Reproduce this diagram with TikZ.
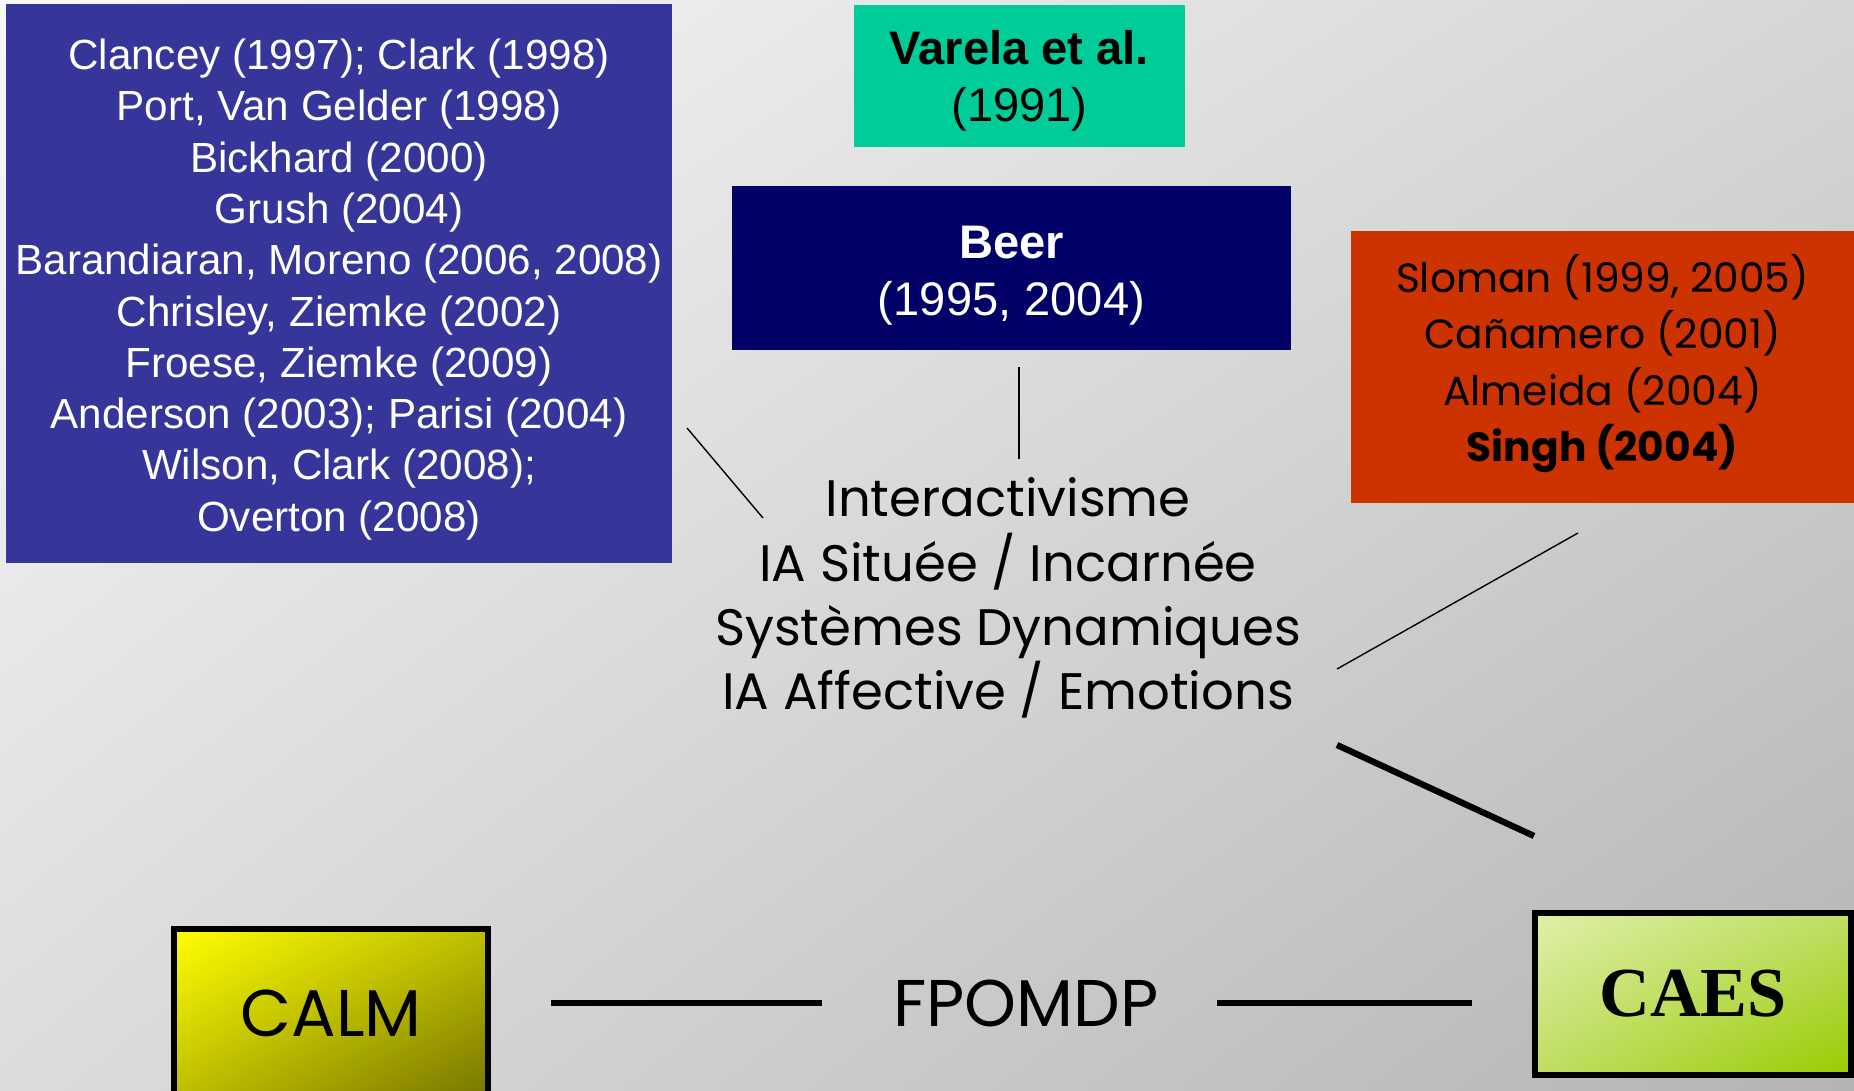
\documentclass[tikz,border=0pt]{standalone}
\usepackage{fontspec}
\usetikzlibrary{shadings}
\setmainfont{Liberation Sans}
\newfontfamily\timesbf{Liberation Serif}
\newfontfamily\gothic{Poppins}
\definecolor{bgtl}{HTML}{F8F8F8}
\definecolor{bgtr}{HTML}{D6D6D6}
\definecolor{bgbl}{HTML}{DCDCDC}
\definecolor{bgbr}{HTML}{B4B4B4}
\definecolor{refblue}{HTML}{35359A}
\definecolor{varelagreen}{HTML}{00CC99}
\definecolor{beernavy}{HTML}{000066}
\definecolor{affred}{HTML}{CC3300}
\def\thinln{\draw[line width=0.4pt]}
\def\thickln{\draw[line width=1.8pt]}
\tikzset{
  refbox/.style={rectangle, inner sep=0pt},
  reftext/.style={inner sep=0pt, align=center},
  modelbox/.style={rectangle, inner sep=0pt, draw=black, line width=1.7pt},
}

\begin{document}
\begin{tikzpicture}[x=0.1mm,y=-0.1mm]
\useasboundingbox (0,0) rectangle (1854,1091);
\clip (0,0) rectangle (1854,1091);
\shade[upper left=bgtl, upper right=bgtr, lower left=bgbl, lower right=bgbr]
  (0,0) rectangle (1854,1091);

% reference boxes
\node[refbox, fill=refblue, minimum width=66.6mm, minimum height=55.9mm] (embodied) at (339,283.5) {};
\node[reftext, text=white, font=\fontsize{12}{14.6}\selectfont] (embodiedtxt)
  at ([yshift=-1.7pt]embodied.center)
  {Clancey (1997); Clark (1998)\\ Port, Van Gelder (1998)\\ Bickhard (2000)\\
   Grush (2004)\\ Barandiaran, Moreno (2006, 2008)\\ Chrisley, Ziemke (2002)\\
   Froese, Ziemke (2009)\\ Anderson (2003); Parisi (2004)\\ Wilson, Clark (2008);\\
   Overton (2008)};
\node[refbox, fill=varelagreen, minimum width=33.1mm, minimum height=14.2mm] (varela) at (1019.5,76) {};
\node[reftext, font=\fontsize{13.4}{16.4}\selectfont] (varelatxt)
  at ([yshift=-1.4pt]varela.center) {\textbf{Varela et al.}\\ (1991)};
\node[refbox, fill=beernavy, minimum width=55.9mm, minimum height=16.4mm] (beer) at (1011.5,268) {};
\node[reftext, text=white, font=\fontsize{13.4}{16.2}\selectfont] (beertxt)
  at ([yshift=-2.2pt]beer.center) {\textbf{Beer}\\ (1995, 2004)};
\node[refbox, fill=affred, minimum width=50.3mm, minimum height=27.2mm] (affect) at (1602.5,367) {};
\node[reftext, font=\gothic\fontsize{11.6}{16.1}\selectfont] (affecttxt)
  at ([yshift=1pt]affect.center)
  {Sloman (1999, 2005)\\ Cañamero (2001)\\ Almeida (2004)\\ \textbf{Singh (2004)}};

% themes
\node[reftext, font=\gothic\fontsize{14.6}{18.3}\selectfont]
  (themes) at (1008,598)
  {Interactivisme\\ IA Située / Incarnée\\ Systèmes Dynamiques\\ IA Affective / Emotions};

% models
\node[modelbox, shade, upper left=yellow, upper right={rgb,255:red,190;green,190;blue,0},
      lower left={rgb,255:red,190;green,190;blue,0}, lower right={rgb,255:red,118;green,118;blue,0},
      minimum width=31.4mm, minimum height=16.8mm,
      font=\gothic\fontsize{18.8}{22}\selectfont] (calm) at (331,1013) {CALM};
\node[modelbox, shade, upper left={rgb,255:red,224;green,240;blue,168},
      upper right={rgb,255:red,190;green,222;blue,100}, lower left={rgb,255:red,190;green,222;blue,100},
      lower right={rgb,255:red,153;green,204;blue,0},
      minimum width=31.6mm, minimum height=16.2mm,
      font=\timesbf\bfseries\fontsize{20}{22}\selectfont] (caes) at (1693,994) {CAES};
\node[reftext, font=\gothic\fontsize{18.8}{22}\selectfont] (fpomdp) at (1026,1003) {FPOMDP};

% connectors
\coordinate (beerend) at (1019,367);
\coordinate (beerthm) at (1019,459);
\coordinate (embend) at (687,428);
\coordinate (embthm) at (763,518);
\coordinate (affend) at (1578,533);
\coordinate (affthm) at (1337,669);
\coordinate (thmcaes) at (1337,745);
\coordinate (caesthm) at (1534,836);
\coordinate (calmfp) at (551,1003);
\coordinate (fpcalm) at (822,1003);
\coordinate (fpcaes) at (1217,1003);
\coordinate (caesfp) at (1472,1003);

\thinln (beerend) -- (beerthm);
\thinln (embend) -- (embthm);
\thinln (affend) -- (affthm);
\thickln (thmcaes) -- (caesthm);
\draw[line width=1.7pt] (calmfp) -- (fpcalm);
\draw[line width=1.7pt] (fpcaes) -- (caesfp);
\end{tikzpicture}
\end{document}
